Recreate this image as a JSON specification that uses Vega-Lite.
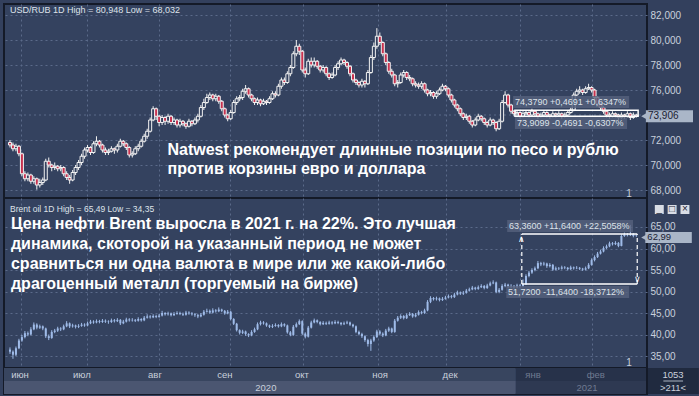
{
"$schema":"https://vega.github.io/schema/vega-lite/v6.json",
"background":"#33405d",
"padding":{"left":3,"top":3,"right":0,"bottom":3},
"spacing":0,
"bounds":"flush",
"config":{"view":{"stroke":"#141a28","strokeWidth":2,"fill":"#34425f"},"font":"Liberation Sans"},
"datasets":{
"usd":[
{"i":0,"o":71.8,"h":72.0,"l":71.4,"c":71.6},{"i":1,"o":71.6,"h":71.8,"l":71.1,"c":71.3},{"i":2,"o":71.3,"h":71.7,"l":71.1,"c":71.5},{"i":3,"o":71.5,"h":71.6,"l":70.7,"c":70.9},{"i":4,"o":70.9,"h":71.0,"l":69.1,"c":69.3},{"i":5,"o":69.3,"h":69.5,"l":68.7,"c":68.9},{"i":6,"o":68.9,"h":69.4,"l":68.7,"c":69.2},{"i":7,"o":69.2,"h":69.3,"l":68.5,"c":68.7},{"i":8,"o":68.7,"h":69.1,"l":68.5,"c":68.9},{"i":9,"o":68.9,"h":69.0,"l":68.03,"c":68.4},
{"i":10,"o":68.4,"h":68.9,"l":68.2,"c":68.6},{"i":11,"o":68.6,"h":69.0,"l":68.4,"c":68.8},{"i":12,"o":68.8,"h":70.5,"l":68.7,"c":70.3},{"i":13,"o":70.3,"h":70.6,"l":69.8,"c":70.0},{"i":14,"o":70.0,"h":70.1,"l":69.5,"c":69.8},{"i":15,"o":69.8,"h":70.2,"l":69.6,"c":69.9},{"i":16,"o":69.9,"h":70.0,"l":69.5,"c":69.7},{"i":17,"o":69.7,"h":70.0,"l":69.5,"c":69.8},{"i":18,"o":69.8,"h":69.9,"l":69.1,"c":69.3},{"i":19,"o":69.3,"h":69.5,"l":68.8,"c":69.0},
{"i":20,"o":69.0,"h":69.2,"l":68.5,"c":68.8},{"i":21,"o":68.8,"h":69.6,"l":68.7,"c":69.4},{"i":22,"o":69.4,"h":70.0,"l":69.2,"c":69.8},{"i":23,"o":69.8,"h":70.4,"l":69.6,"c":70.2},{"i":24,"o":70.2,"h":70.9,"l":70.0,"c":70.7},{"i":25,"o":70.7,"h":71.4,"l":70.5,"c":71.2},{"i":26,"o":71.2,"h":71.6,"l":71.0,"c":71.4},{"i":27,"o":71.4,"h":71.5,"l":70.8,"c":71.0},{"i":28,"o":71.0,"h":71.9,"l":70.9,"c":71.7},{"i":29,"o":71.7,"h":72.3,"l":71.5,"c":71.9},
{"i":30,"o":71.9,"h":72.0,"l":71.4,"c":71.6},{"i":31,"o":71.6,"h":71.7,"l":71.0,"c":71.2},{"i":32,"o":71.2,"h":71.4,"l":70.8,"c":71.0},{"i":33,"o":71.0,"h":71.3,"l":70.8,"c":71.1},{"i":34,"o":71.1,"h":71.5,"l":71.0,"c":71.3},{"i":35,"o":71.3,"h":71.4,"l":70.9,"c":71.2},{"i":36,"o":71.2,"h":71.7,"l":71.0,"c":71.5},{"i":37,"o":71.5,"h":72.1,"l":71.4,"c":71.9},{"i":38,"o":71.9,"h":72.0,"l":71.5,"c":71.7},{"i":39,"o":71.7,"h":71.8,"l":71.2,"c":71.4},
{"i":40,"o":71.4,"h":71.5,"l":70.6,"c":70.8},{"i":41,"o":70.8,"h":71.1,"l":70.6,"c":70.9},{"i":42,"o":70.9,"h":71.5,"l":70.8,"c":71.3},{"i":43,"o":71.3,"h":71.7,"l":71.1,"c":71.5},{"i":44,"o":71.5,"h":72.1,"l":71.4,"c":71.9},{"i":45,"o":71.9,"h":72.5,"l":71.8,"c":72.3},{"i":46,"o":72.3,"h":72.9,"l":72.1,"c":72.7},{"i":47,"o":72.7,"h":73.8,"l":72.6,"c":73.6},{"i":48,"o":73.6,"h":74.7,"l":73.5,"c":74.5},{"i":49,"o":74.5,"h":74.6,"l":73.6,"c":73.9},
{"i":50,"o":73.9,"h":74.0,"l":73.1,"c":73.4},{"i":51,"o":73.4,"h":74.0,"l":73.2,"c":73.8},{"i":52,"o":73.8,"h":73.9,"l":73.2,"c":73.5},{"i":53,"o":73.5,"h":74.1,"l":73.3,"c":73.9},{"i":54,"o":73.9,"h":74.0,"l":73.2,"c":73.4},{"i":55,"o":73.4,"h":73.8,"l":73.2,"c":73.6},{"i":56,"o":73.6,"h":73.7,"l":73.0,"c":73.2},{"i":57,"o":73.2,"h":73.7,"l":73.0,"c":73.5},{"i":58,"o":73.5,"h":73.6,"l":73.1,"c":73.3},{"i":59,"o":73.3,"h":73.4,"l":72.9,"c":73.1},
{"i":60,"o":73.1,"h":73.7,"l":73.0,"c":73.5},{"i":61,"o":73.5,"h":73.6,"l":73.1,"c":73.3},{"i":62,"o":73.3,"h":73.8,"l":73.2,"c":73.6},{"i":63,"o":73.6,"h":74.1,"l":73.4,"c":73.9},{"i":64,"o":73.9,"h":74.8,"l":73.8,"c":74.6},{"i":65,"o":74.6,"h":75.3,"l":74.4,"c":75.0},{"i":66,"o":75.0,"h":75.7,"l":74.9,"c":75.4},{"i":67,"o":75.4,"h":75.8,"l":75.2,"c":75.6},{"i":68,"o":75.6,"h":75.7,"l":75.1,"c":75.3},{"i":69,"o":75.3,"h":75.7,"l":75.1,"c":75.5},
{"i":70,"o":75.5,"h":75.6,"l":74.9,"c":75.1},{"i":71,"o":75.1,"h":75.2,"l":74.3,"c":74.5},{"i":72,"o":74.5,"h":74.6,"l":73.8,"c":74.0},{"i":73,"o":74.0,"h":74.1,"l":73.5,"c":73.7},{"i":74,"o":73.7,"h":74.4,"l":73.6,"c":74.2},{"i":75,"o":74.2,"h":75.2,"l":74.1,"c":75.0},{"i":76,"o":75.0,"h":75.5,"l":74.8,"c":75.3},{"i":77,"o":75.3,"h":75.6,"l":75.1,"c":75.4},{"i":78,"o":75.4,"h":76.1,"l":75.2,"c":75.9},{"i":79,"o":75.9,"h":76.4,"l":75.7,"c":76.1},
{"i":80,"o":76.1,"h":76.2,"l":75.4,"c":75.6},{"i":81,"o":75.6,"h":75.7,"l":75.1,"c":75.3},{"i":82,"o":75.3,"h":75.4,"l":74.8,"c":75.0},{"i":83,"o":75.0,"h":75.4,"l":74.8,"c":75.2},{"i":84,"o":75.2,"h":75.3,"l":74.7,"c":74.9},{"i":85,"o":74.9,"h":75.3,"l":74.8,"c":75.1},{"i":86,"o":75.1,"h":75.2,"l":74.8,"c":75.0},{"i":87,"o":75.0,"h":75.5,"l":74.9,"c":75.3},{"i":88,"o":75.3,"h":75.9,"l":75.2,"c":75.7},{"i":89,"o":75.7,"h":75.9,"l":75.4,"c":75.6},
{"i":90,"o":75.6,"h":76.5,"l":75.5,"c":76.3},{"i":91,"o":76.3,"h":77.0,"l":76.1,"c":76.8},{"i":92,"o":76.8,"h":77.0,"l":76.4,"c":76.6},{"i":93,"o":76.6,"h":77.5,"l":76.5,"c":77.3},{"i":94,"o":77.3,"h":78.0,"l":77.1,"c":77.8},{"i":95,"o":77.8,"h":79.1,"l":77.7,"c":78.9},{"i":96,"o":78.9,"h":80.0,"l":78.7,"c":79.5},{"i":97,"o":79.5,"h":79.7,"l":78.8,"c":79.1},{"i":98,"o":79.1,"h":79.2,"l":77.4,"c":77.6},{"i":99,"o":77.6,"h":77.8,"l":77.0,"c":77.3},
{"i":100,"o":77.3,"h":78.5,"l":77.2,"c":78.3},{"i":101,"o":78.3,"h":78.6,"l":77.8,"c":78.0},{"i":102,"o":78.0,"h":78.6,"l":77.8,"c":78.3},{"i":103,"o":78.3,"h":78.4,"l":77.7,"c":77.9},{"i":104,"o":77.9,"h":78.0,"l":77.4,"c":77.6},{"i":105,"o":77.6,"h":78.0,"l":77.4,"c":77.8},{"i":106,"o":77.8,"h":77.9,"l":77.1,"c":77.3},{"i":107,"o":77.3,"h":77.4,"l":76.8,"c":77.0},{"i":108,"o":77.0,"h":77.4,"l":76.9,"c":77.2},{"i":109,"o":77.2,"h":78.0,"l":77.1,"c":77.8},
{"i":110,"o":77.8,"h":78.3,"l":77.6,"c":78.1},{"i":111,"o":78.1,"h":78.6,"l":78.0,"c":78.4},{"i":112,"o":78.4,"h":78.5,"l":78.0,"c":78.2},{"i":113,"o":78.2,"h":78.3,"l":77.7,"c":77.9},{"i":114,"o":77.9,"h":78.0,"l":77.1,"c":77.3},{"i":115,"o":77.3,"h":77.4,"l":76.6,"c":76.8},{"i":116,"o":76.8,"h":76.9,"l":76.4,"c":76.6},{"i":117,"o":76.6,"h":76.7,"l":76.2,"c":76.4},{"i":118,"o":76.4,"h":76.9,"l":76.2,"c":76.7},{"i":119,"o":76.7,"h":76.8,"l":76.2,"c":76.5},
{"i":120,"o":76.5,"h":77.6,"l":76.4,"c":77.4},{"i":121,"o":77.4,"h":78.8,"l":77.3,"c":78.6},{"i":122,"o":78.6,"h":79.8,"l":78.4,"c":79.5},{"i":123,"o":79.5,"h":80.948,"l":79.3,"c":80.3},{"i":124,"o":80.3,"h":80.6,"l":79.6,"c":79.8},{"i":125,"o":79.8,"h":79.9,"l":78.7,"c":78.9},{"i":126,"o":78.9,"h":79.0,"l":78.0,"c":78.2},{"i":127,"o":78.2,"h":78.3,"l":77.3,"c":77.5},{"i":128,"o":77.5,"h":77.7,"l":77.0,"c":77.2},{"i":129,"o":77.2,"h":77.3,"l":76.3,"c":76.5},
{"i":130,"o":76.5,"h":76.8,"l":76.2,"c":76.6},{"i":131,"o":76.6,"h":77.4,"l":76.5,"c":77.2},{"i":132,"o":77.2,"h":77.6,"l":77.0,"c":77.4},{"i":133,"o":77.4,"h":77.5,"l":76.8,"c":77.0},{"i":134,"o":77.0,"h":77.2,"l":76.7,"c":76.9},{"i":135,"o":76.9,"h":77.0,"l":76.3,"c":76.5},{"i":136,"o":76.5,"h":76.7,"l":76.2,"c":76.4},{"i":137,"o":76.4,"h":76.6,"l":76.1,"c":76.3},{"i":138,"o":76.3,"h":76.7,"l":76.1,"c":76.5},{"i":139,"o":76.5,"h":76.6,"l":75.8,"c":76.0},
{"i":140,"o":76.0,"h":76.1,"l":75.5,"c":75.7},{"i":141,"o":75.7,"h":76.0,"l":75.5,"c":75.8},{"i":142,"o":75.8,"h":75.9,"l":75.3,"c":75.5},{"i":143,"o":75.5,"h":75.9,"l":75.3,"c":75.7},{"i":144,"o":75.7,"h":76.2,"l":75.6,"c":76.0},{"i":145,"o":76.0,"h":76.5,"l":75.9,"c":76.3},{"i":146,"o":76.3,"h":76.4,"l":75.9,"c":76.1},{"i":147,"o":76.1,"h":76.2,"l":75.4,"c":75.6},{"i":148,"o":75.6,"h":75.7,"l":75.0,"c":75.2},{"i":149,"o":75.2,"h":75.3,"l":74.6,"c":74.8},
{"i":150,"o":74.8,"h":74.9,"l":74.3,"c":74.5},{"i":151,"o":74.5,"h":74.6,"l":73.9,"c":74.1},{"i":152,"o":74.1,"h":74.2,"l":73.6,"c":73.8},{"i":153,"o":73.8,"h":74.1,"l":73.6,"c":73.9},{"i":154,"o":73.9,"h":74.0,"l":73.3,"c":73.5},{"i":155,"o":73.5,"h":73.6,"l":73.0,"c":73.2},{"i":156,"o":73.2,"h":73.8,"l":73.1,"c":73.6},{"i":157,"o":73.6,"h":74.1,"l":73.5,"c":73.9},{"i":158,"o":73.9,"h":74.0,"l":73.5,"c":73.7},{"i":159,"o":73.7,"h":73.8,"l":73.2,"c":73.4},
{"i":160,"o":73.4,"h":73.5,"l":73.0,"c":73.2},{"i":161,"o":73.2,"h":73.8,"l":73.1,"c":73.6},{"i":162,"o":73.6,"h":73.7,"l":73.2,"c":73.4},{"i":163,"o":73.4,"h":73.5,"l":72.7,"c":72.9},{"i":164,"o":72.9,"h":73.7,"l":72.8,"c":73.5},{"i":165,"o":73.5,"h":75.2,"l":73.4,"c":75.0},{"i":166,"o":75.0,"h":75.9,"l":74.9,"c":75.6},{"i":167,"o":75.6,"h":75.7,"l":74.6,"c":74.8},{"i":168,"o":74.8,"h":74.9,"l":74.1,"c":74.3},{"i":169,"o":74.3,"h":74.4,"l":73.9,"c":74.1},
{"i":170,"o":74.1,"h":74.4,"l":73.9,"c":74.2},{"i":171,"o":74.2,"h":74.3,"l":73.7,"c":73.9},{"i":172,"o":73.9,"h":74.3,"l":73.8,"c":74.1},{"i":173,"o":74.1,"h":74.4,"l":74.0,"c":74.2},{"i":174,"o":74.2,"h":74.3,"l":73.8,"c":74.0},{"i":175,"o":74.0,"h":74.5,"l":73.9,"c":74.3},{"i":176,"o":74.3,"h":74.4,"l":73.9,"c":74.1},{"i":177,"o":74.1,"h":74.2,"l":73.7,"c":73.9},{"i":178,"o":73.9,"h":74.2,"l":73.8,"c":74.0},{"i":179,"o":74.0,"h":74.4,"l":73.9,"c":74.2},
{"i":180,"o":74.2,"h":74.3,"l":73.8,"c":74.0},{"i":181,"o":74.0,"h":74.1,"l":73.7,"c":73.9},{"i":182,"o":73.9,"h":74.3,"l":73.8,"c":74.1},{"i":183,"o":74.1,"h":74.2,"l":73.8,"c":74.0},{"i":184,"o":74.0,"h":74.3,"l":73.9,"c":74.1},{"i":185,"o":74.1,"h":74.2,"l":73.7,"c":73.9},{"i":186,"o":73.9,"h":74.2,"l":73.8,"c":74.0},{"i":187,"o":74.0,"h":74.4,"l":73.9,"c":74.2},{"i":188,"o":74.2,"h":74.6,"l":74.1,"c":74.4},{"i":189,"o":74.4,"h":75.8,"l":74.3,"c":75.6},
{"i":190,"o":75.6,"h":76.1,"l":75.5,"c":75.9},{"i":191,"o":75.9,"h":76.3,"l":75.7,"c":76.0},{"i":192,"o":76.0,"h":76.1,"l":75.6,"c":75.8},{"i":193,"o":75.8,"h":76.3,"l":75.7,"c":76.1},{"i":194,"o":76.1,"h":76.5,"l":76.0,"c":76.2},{"i":195,"o":76.2,"h":76.3,"l":75.8,"c":76.0},{"i":196,"o":76.0,"h":76.1,"l":75.2,"c":75.4},{"i":197,"o":75.4,"h":75.5,"l":74.7,"c":74.9},{"i":198,"o":74.9,"h":75.0,"l":74.4,"c":74.6},{"i":199,"o":74.6,"h":74.7,"l":74.1,"c":74.3},
{"i":200,"o":74.3,"h":74.4,"l":73.8,"c":74.0},{"i":201,"o":74.0,"h":74.2,"l":73.7,"c":73.9},{"i":202,"o":73.9,"h":74.3,"l":73.8,"c":74.1},{"i":203,"o":74.1,"h":74.2,"l":73.8,"c":74.0},{"i":204,"o":74.0,"h":74.1,"l":73.6,"c":73.8},{"i":205,"o":73.8,"h":74.2,"l":73.7,"c":74.0},{"i":206,"o":74.0,"h":74.1,"l":73.7,"c":73.9},{"i":207,"o":73.9,"h":74.3,"l":73.8,"c":74.1},{"i":208,"o":74.1,"h":74.2,"l":73.6,"c":73.8},{"i":209,"o":73.8,"h":74.2,"l":73.7,"c":74.0},
{"i":210,"o":74.0,"h":74.1,"l":73.8,"c":73.906}
],
"brent":[
{"i":0,"o":36.5,"h":37.0,"l":35.5,"c":36.0},{"i":1,"o":36.0,"h":36.3,"l":34.35,"c":35.3},{"i":2,"o":35.3,"h":37.2,"l":35.0,"c":36.8},{"i":3,"o":36.8,"h":39.0,"l":36.6,"c":38.6},{"i":4,"o":38.6,"h":39.9,"l":38.3,"c":39.4},{"i":5,"o":39.4,"h":40.8,"l":39.1,"c":40.3},{"i":6,"o":40.3,"h":40.7,"l":39.6,"c":40.0},{"i":7,"o":40.0,"h":41.7,"l":39.8,"c":41.2},{"i":8,"o":41.2,"h":42.8,"l":41.0,"c":42.3},{"i":9,"o":42.3,"h":42.6,"l":41.2,"c":41.6},
{"i":10,"o":41.6,"h":42.3,"l":41.3,"c":41.9},{"i":11,"o":41.9,"h":42.1,"l":41.0,"c":41.4},{"i":12,"o":41.4,"h":41.6,"l":39.2,"c":39.6},{"i":13,"o":39.6,"h":40.0,"l":38.7,"c":39.2},{"i":14,"o":39.2,"h":41.0,"l":39.0,"c":40.6},{"i":15,"o":40.6,"h":41.3,"l":40.3,"c":40.9},{"i":16,"o":40.9,"h":41.8,"l":40.6,"c":41.4},{"i":17,"o":41.4,"h":41.7,"l":40.8,"c":41.2},{"i":18,"o":41.2,"h":42.3,"l":41.0,"c":41.9},{"i":19,"o":41.9,"h":43.1,"l":41.7,"c":42.6},
{"i":20,"o":42.6,"h":42.8,"l":41.5,"c":41.9},{"i":21,"o":41.9,"h":42.5,"l":41.6,"c":42.1},{"i":22,"o":42.1,"h":42.3,"l":41.4,"c":41.8},{"i":23,"o":41.8,"h":42.4,"l":41.5,"c":42.0},{"i":24,"o":42.0,"h":42.7,"l":41.8,"c":42.3},{"i":25,"o":42.3,"h":42.6,"l":41.8,"c":42.1},{"i":26,"o":42.1,"h":43.0,"l":41.9,"c":42.6},{"i":27,"o":42.6,"h":43.4,"l":42.4,"c":43.0},{"i":28,"o":43.0,"h":43.3,"l":42.5,"c":42.8},{"i":29,"o":42.8,"h":43.5,"l":42.6,"c":43.1},
{"i":30,"o":43.1,"h":43.4,"l":42.6,"c":42.9},{"i":31,"o":42.9,"h":43.6,"l":42.7,"c":43.2},{"i":32,"o":43.2,"h":43.5,"l":42.7,"c":43.0},{"i":33,"o":43.0,"h":43.3,"l":42.5,"c":42.9},{"i":34,"o":42.9,"h":43.7,"l":42.7,"c":43.3},{"i":35,"o":43.3,"h":43.6,"l":42.8,"c":43.1},{"i":36,"o":43.1,"h":43.8,"l":42.9,"c":43.4},{"i":37,"o":43.4,"h":43.6,"l":42.2,"c":42.6},{"i":38,"o":42.6,"h":43.4,"l":42.4,"c":43.0},{"i":39,"o":43.0,"h":43.9,"l":42.8,"c":43.5},
{"i":40,"o":43.5,"h":43.8,"l":43.0,"c":43.3},{"i":41,"o":43.3,"h":43.8,"l":43.0,"c":43.4},{"i":42,"o":43.4,"h":43.6,"l":42.9,"c":43.2},{"i":43,"o":43.2,"h":44.0,"l":43.0,"c":43.6},{"i":44,"o":43.6,"h":43.8,"l":43.0,"c":43.3},{"i":45,"o":43.3,"h":44.3,"l":43.1,"c":43.9},{"i":46,"o":43.9,"h":44.7,"l":43.7,"c":44.2},{"i":47,"o":44.2,"h":44.5,"l":43.7,"c":44.0},{"i":48,"o":44.0,"h":44.7,"l":43.8,"c":44.3},{"i":49,"o":44.3,"h":44.6,"l":43.8,"c":44.1},
{"i":50,"o":44.1,"h":44.8,"l":43.9,"c":44.4},{"i":51,"o":44.4,"h":45.5,"l":44.2,"c":45.0},{"i":52,"o":45.0,"h":45.2,"l":44.4,"c":44.7},{"i":53,"o":44.7,"h":45.3,"l":44.4,"c":44.9},{"i":54,"o":44.9,"h":45.1,"l":44.2,"c":44.5},{"i":55,"o":44.5,"h":45.2,"l":44.3,"c":44.8},{"i":56,"o":44.8,"h":45.4,"l":44.6,"c":45.0},{"i":57,"o":45.0,"h":45.3,"l":44.5,"c":44.8},{"i":58,"o":44.8,"h":45.1,"l":44.3,"c":44.6},{"i":59,"o":44.6,"h":45.5,"l":44.4,"c":45.1},
{"i":60,"o":45.1,"h":45.4,"l":44.6,"c":44.9},{"i":61,"o":44.9,"h":45.2,"l":44.4,"c":44.7},{"i":62,"o":44.7,"h":45.0,"l":44.1,"c":44.5},{"i":63,"o":44.5,"h":44.8,"l":43.8,"c":44.2},{"i":64,"o":44.2,"h":45.0,"l":44.0,"c":44.6},{"i":65,"o":44.6,"h":45.7,"l":44.4,"c":45.3},{"i":66,"o":45.3,"h":46.0,"l":45.1,"c":45.5},{"i":67,"o":45.5,"h":45.8,"l":44.8,"c":45.1},{"i":68,"o":45.1,"h":46.1,"l":44.9,"c":45.6},{"i":69,"o":45.6,"h":45.9,"l":45.1,"c":45.4},
{"i":70,"o":45.4,"h":46.3,"l":45.2,"c":45.8},{"i":71,"o":45.8,"h":46.0,"l":45.2,"c":45.5},{"i":72,"o":45.5,"h":45.7,"l":44.6,"c":44.9},{"i":73,"o":44.9,"h":45.7,"l":44.7,"c":45.3},{"i":74,"o":45.3,"h":45.5,"l":43.3,"c":43.6},{"i":75,"o":43.6,"h":43.8,"l":42.2,"c":42.5},{"i":76,"o":42.5,"h":42.7,"l":40.7,"c":41.0},{"i":77,"o":41.0,"h":41.2,"l":40.0,"c":40.4},{"i":78,"o":40.4,"h":41.1,"l":40.1,"c":40.7},{"i":79,"o":40.7,"h":40.9,"l":39.7,"c":40.1},
{"i":80,"o":40.1,"h":40.3,"l":39.4,"c":39.8},{"i":81,"o":39.8,"h":41.0,"l":39.6,"c":40.6},{"i":82,"o":40.6,"h":41.6,"l":40.4,"c":41.2},{"i":83,"o":41.2,"h":42.8,"l":41.0,"c":42.4},{"i":84,"o":42.4,"h":43.2,"l":42.1,"c":42.8},{"i":85,"o":42.8,"h":43.1,"l":42.3,"c":42.6},{"i":86,"o":42.6,"h":42.8,"l":41.8,"c":42.1},{"i":87,"o":42.1,"h":42.3,"l":41.5,"c":41.8},{"i":88,"o":41.8,"h":42.4,"l":41.5,"c":42.0},{"i":89,"o":42.0,"h":42.6,"l":41.8,"c":42.2},
{"i":90,"o":42.2,"h":42.4,"l":41.6,"c":41.9},{"i":91,"o":41.9,"h":42.8,"l":41.7,"c":42.4},{"i":92,"o":42.4,"h":42.6,"l":41.8,"c":42.1},{"i":93,"o":42.1,"h":42.3,"l":40.2,"c":40.5},{"i":94,"o":40.5,"h":40.8,"l":39.6,"c":39.9},{"i":95,"o":39.9,"h":42.2,"l":39.7,"c":41.8},{"i":96,"o":41.8,"h":42.8,"l":41.6,"c":42.4},{"i":97,"o":42.4,"h":43.5,"l":42.2,"c":43.1},{"i":98,"o":43.1,"h":43.3,"l":39.9,"c":40.2},{"i":99,"o":40.2,"h":40.5,"l":39.1,"c":39.5},
{"i":100,"o":39.5,"h":42.0,"l":39.3,"c":41.6},{"i":101,"o":41.6,"h":43.2,"l":41.4,"c":42.8},{"i":102,"o":42.8,"h":43.7,"l":42.6,"c":43.3},{"i":103,"o":43.3,"h":43.5,"l":42.6,"c":42.9},{"i":104,"o":42.9,"h":43.1,"l":42.1,"c":42.4},{"i":105,"o":42.4,"h":43.1,"l":42.2,"c":42.7},{"i":106,"o":42.7,"h":43.0,"l":42.2,"c":42.5},{"i":107,"o":42.5,"h":43.2,"l":42.3,"c":42.8},{"i":108,"o":42.8,"h":43.1,"l":42.3,"c":42.6},{"i":109,"o":42.6,"h":43.3,"l":42.4,"c":42.9},
{"i":110,"o":42.9,"h":43.2,"l":42.4,"c":42.7},{"i":111,"o":42.7,"h":42.9,"l":42.1,"c":42.4},{"i":112,"o":42.4,"h":43.0,"l":42.2,"c":42.6},{"i":113,"o":42.6,"h":43.2,"l":42.4,"c":42.8},{"i":114,"o":42.8,"h":43.0,"l":42.0,"c":42.3},{"i":115,"o":42.3,"h":42.5,"l":41.6,"c":41.9},{"i":116,"o":41.9,"h":42.1,"l":40.3,"c":40.6},{"i":117,"o":40.6,"h":40.9,"l":39.8,"c":40.1},{"i":118,"o":40.1,"h":40.4,"l":39.2,"c":39.6},{"i":119,"o":39.6,"h":39.8,"l":38.3,"c":38.7},
{"i":120,"o":38.7,"h":39.0,"l":37.2,"c":37.8},{"i":121,"o":37.8,"h":39.0,"l":36.2,"c":38.6},{"i":122,"o":38.6,"h":39.8,"l":38.3,"c":39.4},{"i":123,"o":39.4,"h":41.1,"l":39.2,"c":40.7},{"i":124,"o":40.7,"h":41.0,"l":39.8,"c":40.2},{"i":125,"o":40.2,"h":40.5,"l":39.4,"c":39.8},{"i":126,"o":39.8,"h":41.3,"l":39.6,"c":40.9},{"i":127,"o":40.9,"h":41.8,"l":40.6,"c":41.4},{"i":128,"o":41.4,"h":41.6,"l":40.3,"c":40.6},{"i":129,"o":40.6,"h":43.6,"l":40.4,"c":43.2},
{"i":130,"o":43.2,"h":44.3,"l":43.0,"c":43.9},{"i":131,"o":43.9,"h":44.7,"l":43.6,"c":44.3},{"i":132,"o":44.3,"h":44.5,"l":43.5,"c":43.8},{"i":133,"o":43.8,"h":44.9,"l":43.6,"c":44.5},{"i":134,"o":44.5,"h":45.2,"l":44.3,"c":44.8},{"i":135,"o":44.8,"h":45.0,"l":43.9,"c":44.2},{"i":136,"o":44.2,"h":45.0,"l":44.0,"c":44.6},{"i":137,"o":44.6,"h":45.6,"l":44.4,"c":45.2},{"i":138,"o":45.2,"h":45.5,"l":44.7,"c":45.0},{"i":139,"o":45.0,"h":46.0,"l":44.8,"c":45.6},
{"i":140,"o":45.6,"h":48.0,"l":45.4,"c":47.6},{"i":141,"o":47.6,"h":48.9,"l":47.3,"c":48.5},{"i":142,"o":48.5,"h":48.7,"l":47.9,"c":48.2},{"i":143,"o":48.2,"h":48.8,"l":47.9,"c":48.4},{"i":144,"o":48.4,"h":48.6,"l":47.7,"c":48.0},{"i":145,"o":48.0,"h":48.7,"l":47.8,"c":48.3},{"i":146,"o":48.3,"h":49.0,"l":48.1,"c":48.6},{"i":147,"o":48.6,"h":49.3,"l":48.4,"c":48.9},{"i":148,"o":48.9,"h":49.2,"l":48.4,"c":48.7},{"i":149,"o":48.7,"h":49.7,"l":48.5,"c":49.3},
{"i":150,"o":49.3,"h":50.2,"l":49.1,"c":49.8},{"i":151,"o":49.8,"h":50.0,"l":49.2,"c":49.5},{"i":152,"o":49.5,"h":50.1,"l":49.2,"c":49.7},{"i":153,"o":49.7,"h":50.6,"l":49.5,"c":50.2},{"i":154,"o":50.2,"h":50.9,"l":50.0,"c":50.5},{"i":155,"o":50.5,"h":51.3,"l":50.3,"c":50.9},{"i":156,"o":50.9,"h":51.1,"l":50.3,"c":50.6},{"i":157,"o":50.6,"h":51.4,"l":50.4,"c":51.0},{"i":158,"o":51.0,"h":51.7,"l":50.8,"c":51.3},{"i":159,"o":51.3,"h":51.5,"l":50.5,"c":50.8},
{"i":160,"o":50.8,"h":51.8,"l":50.6,"c":51.4},{"i":161,"o":51.4,"h":52.3,"l":51.2,"c":51.9},{"i":162,"o":51.9,"h":52.6,"l":51.7,"c":52.1},{"i":163,"o":52.1,"h":52.3,"l":49.6,"c":49.9},{"i":164,"o":49.9,"h":50.8,"l":49.6,"c":50.4},{"i":165,"o":50.4,"h":51.7,"l":50.2,"c":51.3},{"i":166,"o":51.3,"h":52.0,"l":51.0,"c":51.6},{"i":167,"o":51.6,"h":51.8,"l":50.8,"c":51.1},{"i":168,"o":51.1,"h":51.7,"l":50.8,"c":51.3},{"i":169,"o":51.3,"h":51.5,"l":50.7,"c":51.0},
{"i":170,"o":51.0,"h":51.8,"l":50.8,"c":51.4},{"i":171,"o":51.4,"h":51.7,"l":50.9,"c":51.2},{"i":172,"o":51.2,"h":52.8,"l":51.0,"c":51.7},{"i":173,"o":51.7,"h":54.0,"l":51.5,"c":53.6},{"i":174,"o":53.6,"h":54.8,"l":53.3,"c":54.4},{"i":175,"o":54.4,"h":55.4,"l":54.1,"c":55.0},{"i":176,"o":55.0,"h":55.8,"l":54.7,"c":55.4},{"i":177,"o":55.4,"h":57.1,"l":55.2,"c":56.6},{"i":178,"o":56.6,"h":56.9,"l":55.9,"c":56.3},{"i":179,"o":56.3,"h":56.9,"l":56.0,"c":56.5},
{"i":180,"o":56.5,"h":56.7,"l":55.5,"c":55.9},{"i":181,"o":55.9,"h":56.6,"l":55.6,"c":56.2},{"i":182,"o":56.2,"h":56.4,"l":54.8,"c":55.1},{"i":183,"o":55.1,"h":55.8,"l":54.9,"c":55.4},{"i":184,"o":55.4,"h":55.7,"l":55.0,"c":55.3},{"i":185,"o":55.3,"h":56.0,"l":55.1,"c":55.6},{"i":186,"o":55.6,"h":55.9,"l":55.2,"c":55.5},{"i":187,"o":55.5,"h":55.7,"l":54.9,"c":55.2},{"i":188,"o":55.2,"h":56.0,"l":55.0,"c":55.6},{"i":189,"o":55.6,"h":55.8,"l":55.1,"c":55.4},
{"i":190,"o":55.4,"h":55.9,"l":55.2,"c":55.5},{"i":191,"o":55.5,"h":55.7,"l":55.0,"c":55.3},{"i":192,"o":55.3,"h":55.5,"l":54.8,"c":55.1},{"i":193,"o":55.1,"h":55.8,"l":54.9,"c":55.4},{"i":194,"o":55.4,"h":56.6,"l":55.2,"c":56.2},{"i":195,"o":56.2,"h":57.7,"l":56.0,"c":57.3},{"i":196,"o":57.3,"h":58.4,"l":57.0,"c":58.0},{"i":197,"o":58.0,"h":59.2,"l":57.8,"c":58.8},{"i":198,"o":58.8,"h":59.7,"l":58.6,"c":59.3},{"i":199,"o":59.3,"h":60.5,"l":59.1,"c":60.1},
{"i":200,"o":60.1,"h":60.9,"l":59.9,"c":60.5},{"i":201,"o":60.5,"h":61.6,"l":60.3,"c":61.2},{"i":202,"o":61.2,"h":61.5,"l":60.7,"c":61.0},{"i":203,"o":61.0,"h":61.7,"l":60.8,"c":61.3},{"i":204,"o":61.3,"h":61.5,"l":60.3,"c":60.6},{"i":205,"o":60.6,"h":63.3,"l":60.5,"c":62.9},{"i":206,"o":62.9,"h":63.7,"l":62.7,"c":63.3},{"i":207,"o":63.3,"h":63.6,"l":62.8,"c":63.1},{"i":208,"o":63.1,"h":65.49,"l":62.9,"c":63.4},{"i":209,"o":63.4,"h":63.6,"l":62.6,"c":62.9},
{"i":210,"o":62.9,"h":63.3,"l":62.7,"c":62.99}
]
},
"vconcat":[
{
"width":643,"height":194,
"encoding":{
"x":{"type":"quantitative","scale":{"domain":[-0.33,211.9],"nice":false,"zero":false},"axis":{"values":[3.63,25.75,49.84,73.6,98.36,123.45,146.2,170.97,195.07],"labels":false,"ticks":false,"domain":false,"title":null,"grid":true,"gridColor":"#5b6a8a","gridDash":[2,3],"gridWidth":1,"minExtent":0,"maxExtent":0}},
"y":{"type":"quantitative","scale":{"domain":[67.36,82.88],"nice":false,"zero":false},"axis":{"orient":"right","values":[68,70,72,76,78,80,82],"labelExpr":"replace(format(datum.value,'.3f'),'.',',')","ticks":false,"domain":false,"title":null,"grid":true,"gridColor":"#5b6a8a","gridDash":[2,3],"labelColor":"#c9d0dc","labelFont":"Liberation Sans","labelFontSize":10,"labelPadding":3,"minExtent":53,"maxExtent":53}}
},
"layer":[
{"data":{"values":[{"i":-0.33,"v":74},{"i":211.9,"v":74}]},"mark":{"type":"rule","color":"#5b6a8a","strokeDash":[2,3],"strokeWidth":1},
"encoding":{"x":{"field":"i","aggregate":"min"},"x2":{"field":"i","aggregate":"max"},"y":{"field":"v","aggregate":"min"}}},
{"data":{"name":"usd"},"mark":{"type":"rule","color":"#f2f2f2","strokeWidth":1},
"encoding":{"x":{"field":"i"},"y":{"field":"l"},"y2":{"field":"h"}}},
{"data":{"name":"usd"},"mark":{"type":"bar","size":3,"stroke":"#f2f2f2","strokeWidth":1},
"encoding":{"x":{"field":"i"},"y":{"field":"o"},"y2":{"field":"c"},
"fill":{"condition":{"test":"datum.c < datum.o","value":"#c8324f"},"value":"#34425f"}}},
{"data":{"values":[{"i":0,"v":82.4,"t":"USD/RUB 1D High = 80,948 Low = 68,032"}]},"mark":{"type":"text","align":"left","baseline":"middle","fontSize":9,"color":"#dfe3ea"},
"encoding":{"x":{"field":"i"},"y":{"field":"v"},"text":{"field":"t"}}},
{"data":{"values":[{"i":52.8,"v":70.8,"t":"Natwest рекомендует длинные позиции по песо и рублю"},{"i":52.8,"v":69.26,"t":"против корзины евро и доллара"}]},"mark":{"type":"text","align":"left","baseline":"alphabetic","fontSize":16,"fontWeight":"bold","color":"#ffffff"},
"encoding":{"x":{"field":"i"},"y":{"field":"v"},"text":{"field":"t"}}},
{"data":{"values":[{"a":168.7,"b":207.6,"lo":74.56,"hi":75.52},{"a":169.3,"b":206.9,"lo":72.88,"hi":73.84}]},"mark":{"type":"rect","color":"#56627d","opacity":0.8},
"encoding":{"x":{"field":"a"},"x2":{"field":"b"},"y":{"field":"lo"},"y2":{"field":"hi"}}},
{"data":{"values":[{"a":169.3,"b":210.6,"lo":73.9099,"hi":74.379}]},"mark":{"type":"rect","fillOpacity":0,"stroke":"#ffffff","strokeWidth":1.5},
"encoding":{"x":{"field":"a"},"x2":{"field":"b"},"y":{"field":"lo"},"y2":{"field":"hi"}}},
{"data":{"values":[{"i":169.3,"v":75.04,"t":"74,3790  +0,4691  +0,6347%"},{"i":170,"v":73.36,"t":"73,9099  -0,4691  -0,6307%"}]},"mark":{"type":"text","align":"left","baseline":"middle","fontSize":9,"color":"#dde2ea"},
"encoding":{"x":{"field":"i"},"y":{"field":"v"},"text":{"field":"t"}}},
{"data":{"values":[{"a":213.2,"b":229.0,"lo":73.43,"hi":74.39}]},"mark":{"type":"rect","fill":"#aab6c8","opacity":1},
"encoding":{"x":{"field":"a"},"x2":{"field":"b"},"y":{"field":"lo"},"y2":{"field":"hi"}}},
{"data":{"values":[{"i":212.6,"v":73.906}]},"mark":{"type":"point","shape":"triangle-left","size":45,"filled":true,"fill":"#aab6c8","opacity":1},
"encoding":{"x":{"field":"i"},"y":{"field":"v"}}},
{"data":{"values":[{"i":213.9,"v":73.906,"t":"73,906"}]},"mark":{"type":"text","align":"left","baseline":"middle","fontSize":10,"fill":"#1a2132"},
"encoding":{"x":{"field":"i"},"y":{"field":"v"},"text":{"field":"t"}}},
{"data":{"values":[{"i":206.6,"v":67.68,"t":"1"}]},"mark":{"type":"text","align":"left","baseline":"middle","fontSize":10,"fill":"#c9d0dc"},
"encoding":{"x":{"field":"i"},"y":{"field":"v"},"text":{"field":"t"}}}
]
},
{
"width":643,"height":170,
"encoding":{
"x":{"type":"quantitative","scale":{"domain":[-0.33,211.9],"nice":false,"zero":false},"axis":{"values":[3.63,25.75,49.84,73.6,98.36,123.45,146.2,170.97,195.07],"labels":false,"ticks":false,"domain":false,"title":null,"grid":true,"gridColor":"#5b6a8a","gridDash":[2,3],"gridWidth":1,"minExtent":0,"maxExtent":0}},
"y":{"type":"quantitative","scale":{"domain":[32.21,71.744],"nice":false,"zero":false},"axis":{"orient":"right","values":[35,40,45,50,55,60,65],"labelExpr":"replace(format(datum.value,'.2f'),'.',',')","ticks":false,"domain":false,"title":null,"grid":true,"gridColor":"#5b6a8a","gridDash":[2,3],"labelColor":"#c9d0dc","labelFont":"Liberation Sans","labelFontSize":10,"labelPadding":3,"minExtent":53,"maxExtent":53}}
},
"layer":[
{"data":{"name":"brent"},"mark":{"type":"rule","color":"#9fbbe8","strokeWidth":1},
"encoding":{"x":{"field":"i"},"y":{"field":"l"},"y2":{"field":"h"}}},
{"data":{"name":"brent"},"mark":{"type":"bar","size":2,"color":"#9fbbe8"},
"encoding":{"x":{"field":"i"},"y":{"field":"o"},"y2":{"field":"c"}}},
{"data":{"values":[{"i":0,"v":69.19,"t":"Brent oil 1D High = 65,49 Low = 34,35"}]},"mark":{"type":"text","align":"left","baseline":"middle","fontSize":8.5,"color":"#dfe3ea"},
"encoding":{"x":{"field":"i"},"y":{"field":"v"},"text":{"field":"t"}}},
{"data":{"values":[{"i":0.33,"v":64.47,"t":"Цена нефти Brent выросла  в 2021 г. на 22%. Это лучшая"},{"i":0.33,"v":59.77,"t":"динамика, скоторой на указанный период не может"},{"i":0.33,"v":55.12,"t":"сравниться ни одна валюта в мире или же какой-либо"},{"i":0.33,"v":50.58,"t":"драгоценный металл (торгуемый на бирже)"}]},"mark":{"type":"text","align":"left","baseline":"alphabetic","fontSize":16,"fontWeight":"bold","color":"#ffffff"},
"encoding":{"x":{"field":"i"},"y":{"field":"v"},"text":{"field":"t"}}},
{"data":{"values":[{"a":166.7,"b":208.9,"lo":63.84,"hi":66.63},{"a":166.4,"b":207.6,"lo":48.49,"hi":51.28}]},"mark":{"type":"rect","color":"#56627d","opacity":0.8},
"encoding":{"x":{"field":"a"},"x2":{"field":"b"},"y":{"field":"lo"},"y2":{"field":"hi"}}},
{"data":{"values":[{"a":171.6,"b":210.3,"v":63.36},{"a":171.6,"b":210.3,"v":51.72}]},"mark":{"type":"rule","color":"#ffffff","strokeWidth":1.5},
"encoding":{"x":{"field":"a"},"x2":{"field":"b"},"y":{"field":"v"}}},
{"data":{"values":[{"i":171.6,"lo":51.72,"hi":63.36},{"i":210.3,"lo":51.72,"hi":63.36}]},"mark":{"type":"rule","color":"#ffffff","strokeWidth":1.2,"strokeDash":[4,3]},
"encoding":{"x":{"field":"i"},"y":{"field":"lo"},"y2":{"field":"hi"}}},
{"data":{"values":[{"i":171.6,"v":62.2,"t":"∧"},{"i":210.3,"v":52.9,"t":"∨"}]},"mark":{"type":"text","align":"center","baseline":"middle","fontSize":9,"color":"#ffffff"},
"encoding":{"x":{"field":"i"},"y":{"field":"v"},"text":{"field":"t"}}},
{"data":{"values":[{"i":167.3,"v":65.23,"t":"63,3600  +11,6400  +22,5058%"},{"i":167.0,"v":49.88,"t":"51,7200  -11,6400  -18,3712%"}]},"mark":{"type":"text","align":"left","baseline":"middle","fontSize":9,"color":"#dde2ea"},
"encoding":{"x":{"field":"i"},"y":{"field":"v"},"text":{"field":"t"}}},
{"data":{"values":[{"a":213.0,"b":228.6,"lo":61.28,"hi":63.84}]},"mark":{"type":"rect","fill":"#aab6c8","opacity":1},
"encoding":{"x":{"field":"a"},"x2":{"field":"b"},"y":{"field":"lo"},"y2":{"field":"hi"}}},
{"data":{"values":[{"a":216.2,"b":219.2,"lo":68.02,"hi":70.12},{"a":220.5,"b":223.5,"lo":68.02,"hi":70.12},{"a":224.8,"b":227.8,"lo":68.02,"hi":70.12}]},"mark":{"type":"rect","fill":"#d9dde5","opacity":1},
"encoding":{"x":{"field":"a"},"x2":{"field":"b"},"y":{"field":"lo"},"y2":{"field":"hi"}}},
{"data":{"values":[{"i":212.6,"v":62.56}]},"mark":{"type":"point","shape":"triangle-left","size":45,"filled":true,"fill":"#aab6c8","opacity":1},
"encoding":{"x":{"field":"i"},"y":{"field":"v"}}},
{"data":{"values":[{"i":213.7,"v":62.56,"t":"62,99"}]},"mark":{"type":"text","align":"left","baseline":"middle","fontSize":9.5,"fill":"#1a2132"},
"encoding":{"x":{"field":"i"},"y":{"field":"v"},"text":{"field":"t"}}},
{"data":{"values":[{"i":217.7,"v":69.07,"t":"_"},{"i":222.0,"v":69.07,"t":"□"},{"i":226.3,"v":69.07,"t":"×"}]},"mark":{"type":"text","align":"center","baseline":"middle","fontSize":10,"fill":"#1a2132"},
"encoding":{"x":{"field":"i"},"y":{"field":"v"},"text":{"field":"t"}}},
{"data":{"values":[{"i":206.6,"v":33.37,"t":"1"}]},"mark":{"type":"text","align":"left","baseline":"middle","fontSize":10,"fill":"#c9d0dc"},
"encoding":{"x":{"field":"i"},"y":{"field":"v"},"text":{"field":"t"}}}
]
},
{
"width":643,"height":26,
"encoding":{
"x":{"type":"quantitative","scale":{"domain":[-0.33,211.9],"nice":false,"zero":false},"axis":null},
"y":{"type":"quantitative","scale":{"domain":[0,2],"nice":false,"zero":false},"axis":null}
},
"layer":[
{"data":{"values":[{"a":-0.33,"b":168.6,"lo":1,"hi":2}]},"mark":{"type":"rect","fill":"#38455f","opacity":1},
"encoding":{"x":{"field":"a"},"x2":{"field":"b"},"y":{"field":"lo"},"y2":{"field":"hi"}}},
{"data":{"values":[{"a":-0.33,"b":168.6,"lo":0,"hi":1}]},"mark":{"type":"rect","fill":"#4b5671","opacity":1},
"encoding":{"x":{"field":"a"},"x2":{"field":"b"},"y":{"field":"lo"},"y2":{"field":"hi"}}},
{"data":{"values":[{"a":168.6,"b":211.9,"lo":1,"hi":2}]},"mark":{"type":"rect","fill":"#27324a","opacity":1},
"encoding":{"x":{"field":"a"},"x2":{"field":"b"},"y":{"field":"lo"},"y2":{"field":"hi"}}},
{"data":{"values":[{"a":168.6,"b":211.9,"lo":0,"hi":1}]},"mark":{"type":"rect","fill":"#2e3952","opacity":1},
"encoding":{"x":{"field":"a"},"x2":{"field":"b"},"y":{"field":"lo"},"y2":{"field":"hi"}}},
{"data":{"values":[{"a":211.9,"b":229.0,"lo":0,"hi":2}]},"mark":{"type":"rect","fill":"#202a3f","opacity":1},
"encoding":{"x":{"field":"a"},"x2":{"field":"b"},"y":{"field":"lo"},"y2":{"field":"hi"}}},
{"data":{"values":[{"i":211.9,"lo":0,"hi":2}]},"mark":{"type":"rule","color":"#141a28","strokeWidth":2},
"encoding":{"x":{"field":"i"},"y":{"field":"lo"},"y2":{"field":"hi"}}},
{"data":{"values":[{"a":217.3,"b":223.8,"v":1.0}]},"mark":{"type":"rule","color":"#aab3c2","strokeWidth":1},
"encoding":{"x":{"field":"a"},"x2":{"field":"b"},"y":{"field":"v"}}},
{"data":{"values":[{"i":4.95,"v":1.5,"t":"июн"},{"i":25.4,"v":1.5,"t":"июл"},{"i":49.5,"v":1.5,"t":"авг"},{"i":72.6,"v":1.5,"t":"сен"},{"i":98.0,"v":1.5,"t":"окт"},{"i":123.8,"v":1.5,"t":"ноя"},{"i":146.9,"v":1.5,"t":"дек"},{"i":86.1,"v":0.5,"t":"2020"},{"i":220.5,"v":1.5,"t":"1053"},{"i":220.5,"v":0.5,"t":">211<"}]},"mark":{"type":"text","align":"center","baseline":"middle","fontSize":9.5,"fill":"#c9d0dc"},
"encoding":{"x":{"field":"i"},"y":{"field":"v"},"text":{"field":"t"}}},
{"data":{"values":[{"i":174.3,"v":1.5,"t":"янв"},{"i":195.0,"v":1.5,"t":"фев"},{"i":192.1,"v":0.5,"t":"2021"}]},"mark":{"type":"text","align":"center","baseline":"middle","fontSize":9.5,"fill":"#6f7a91"},
"encoding":{"x":{"field":"i"},"y":{"field":"v"},"text":{"field":"t"}}}
]
}
]
}
